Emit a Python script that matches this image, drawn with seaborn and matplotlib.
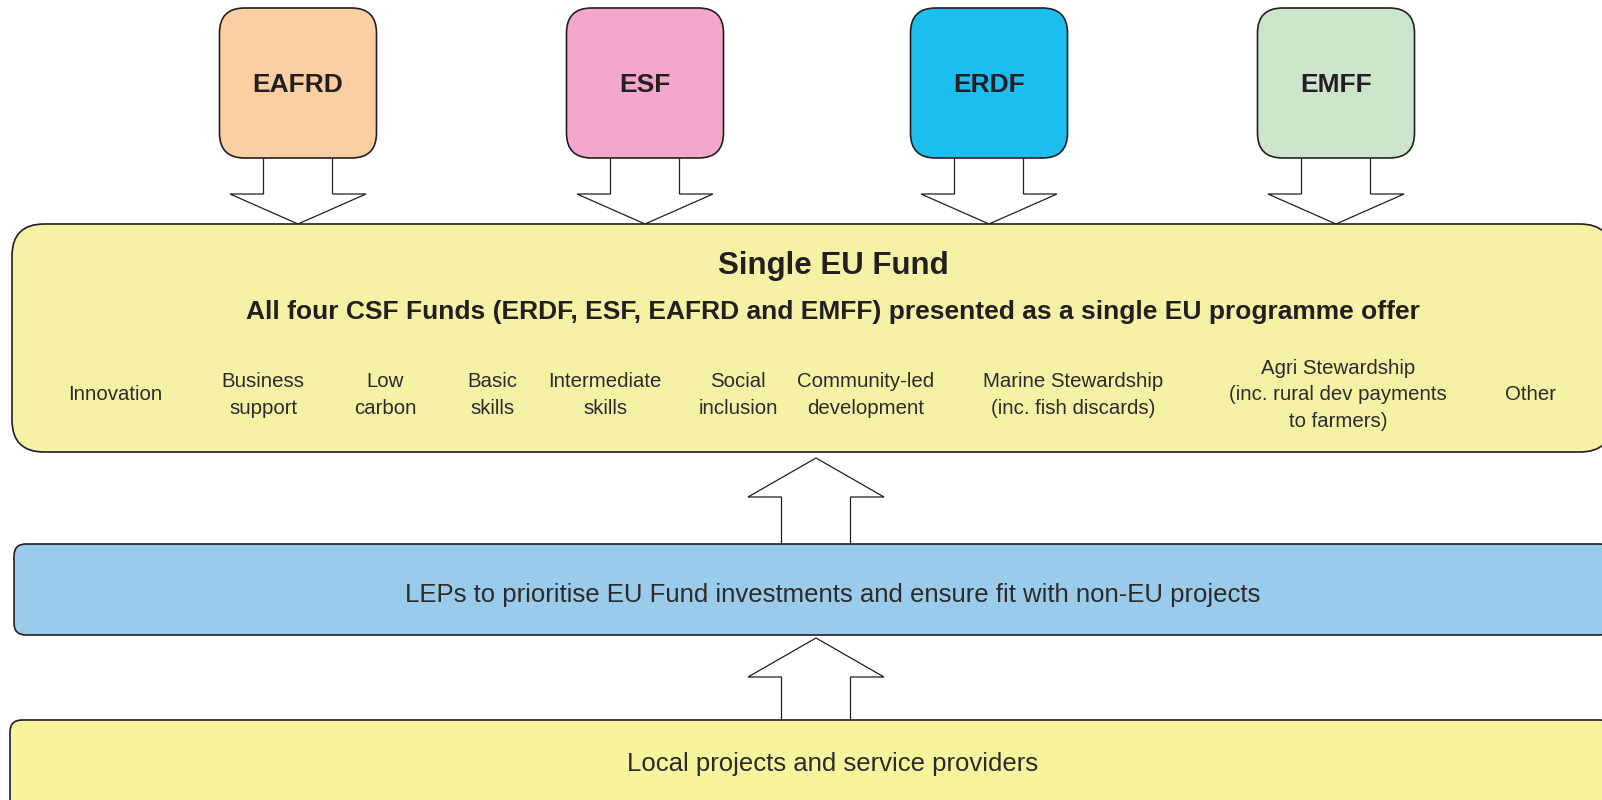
#%% MODULE BEGINS
module_name = 'single_eu_fund_diagram'

'''
Description:
    Flow diagram of the four CSF funds feeding a single EU fund,
    with LEPs and local projects underneath.
'''

#%% IMPORTS                    ~~~~~~~~~~~~~~~~~~~~~~~~~~~~~~~~~~~~~~~~~~~~
import matplotlib
matplotlib.use("Agg")
from matplotlib import pyplot as plt
from matplotlib.patches import FancyBboxPatch, Polygon
import seaborn as sns

#%% DATA                        ~~~~~~~~~~~~~~~~~~~~~~~~~~~~~~~~~~~~~~~~~~~~
FUND_NAMES = ["EAFRD", "ESF", "ERDF", "EMFF"]
FUND_COLORS = ["#FBCFA4", "#F4A7CB", "#1CBEF0", "#CCE5CC"]

TITLE = "Single EU Fund"
SUBTITLE = ("All four CSF Funds (ERDF, ESF, EAFRD and EMFF) presented as a "
            "single EU programme offer")
THEMES = ["Innovation", "Business\nsupport", "Low\ncarbon", "Basic\nskills",
          "Intermediate\nskills", "Social\ninclusion",
          "Community-led\ndevelopment",
          "Marine Stewardship\n(inc. fish discards)",
          "Agri Stewardship\n(inc. rural dev payments\nto farmers)", "Other"]
LEP_TEXT = ("LEPs to prioritise EU Fund investments and ensure fit with "
            "non-EU projects")
LOCAL_TEXT = "Local projects and service providers"

#%% LAYOUT (pixel units)        ~~~~~~~~~~~~~~~~~~~~~~~~~~~~~~~~~~~~~~~~~~~~
W, H = 1602, 800
FUND_X = [298, 645, 989, 1336]  # centres of fund boxes #
THEME_X = [115, 263, 385, 492, 605, 738, 866, 1073, 1338, 1530]
TEXT_COLOR = "#231F20"
EDGE = "#231F20"


def rbox(ax, x0, y0, x1, y1, r, color, lw=1.2):
    """Rounded box between two corners."""
    ax.add_patch(FancyBboxPatch((x0, y0), x1 - x0, y1 - y0,
                                boxstyle=f"round,pad=0,rounding_size={r}",
                                fc=color, ec=EDGE, lw=lw, zorder=2))


def block_arrow(ax, xc, y_start, y_neck, y_tip):
    """Outlined block arrow (stem from y_start, head from y_neck to y_tip)."""
    sw, hw = 34.5, 68
    pts = [(xc - sw, y_start), (xc - sw, y_neck), (xc - hw, y_neck),
           (xc, y_tip), (xc + hw, y_neck), (xc + sw, y_neck),
           (xc + sw, y_start)]
    ax.add_patch(Polygon(pts, closed=False, fc="white", ec=EDGE,
                         lw=0.9, zorder=1))


def main():
    sns.set_theme(style="white")
    plt.rcParams["font.family"] = ["Liberation Sans", "DejaVu Sans"]

    fig = plt.figure(figsize=(W / 100, H / 100), dpi=100)
    ax = fig.add_axes([0, 0, 1, 1])
    ax.set_xlim(0, W)
    ax.set_ylim(H, 0)
    ax.axis("off")

    # Fund boxes and down arrows #
    for name, color, xc in zip(FUND_NAMES, FUND_COLORS, FUND_X):
        rbox(ax, xc - 78.5, 8, xc + 78.5, 158, 25, color)
        ax.text(xc, 85, name, ha="center", va="center", fontsize=19,
                fontweight="bold", color=TEXT_COLOR, zorder=3)
        block_arrow(ax, xc, 158, 194, 224)

    # Single EU Fund box #
    rbox(ax, 12, 224, 1612, 452, 32, "#F5F2A6")
    ax.text(833, 266, TITLE, ha="center", va="center", fontsize=22.5,
            fontweight="bold", color=TEXT_COLOR, zorder=3)
    ax.text(833, 312, SUBTITLE, ha="center", va="center", fontsize=19,
            fontweight="bold", color=TEXT_COLOR, zorder=3)
    for label, xc in zip(THEMES, THEME_X):
        ax.text(xc, 395, label, ha="center", va="center", fontsize=14.7,
                color="#2B2B2B", linespacing=1.48, zorder=3)

    # Up arrows #
    block_arrow(ax, 816, 544, 497, 458)
    block_arrow(ax, 816, 720, 677, 638)

    # LEP box #
    rbox(ax, 14, 544, 1612, 635, 12, "#9BCBEB")
    ax.text(833, 595, LEP_TEXT, ha="center", va="center", fontsize=18.5,
            color="#2B2B2B", zorder=3)

    # Local projects box #
    rbox(ax, 10, 720, 1612, 815, 12, "#F8F49E")
    ax.text(833, 764, LOCAL_TEXT, ha="center", va="center", fontsize=18.5,
            color="#2B2B2B", zorder=3)

    fig.savefig("out.png", dpi=100)


#%% MAIN CODE                  ~~~~~~~~~~~~~~~~~~~~~~~~~~~~~~~~~~~~~~~~~~~~
if __name__ == "__main__":
    main()
